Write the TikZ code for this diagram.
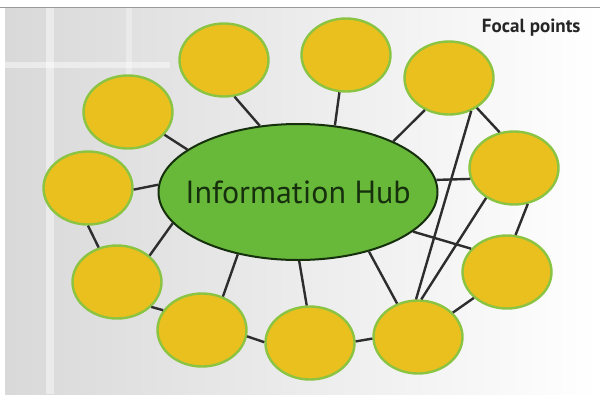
\documentclass[tikz,border=0pt]{standalone}
\usepackage{fontspec}
\setmainfont{PT Sans}
\usepackage{tikz}
\usetikzlibrary{shapes.geometric}
\definecolor{hubgreen}{RGB}{104,184,58}
\definecolor{hubrim}{RGB}{22,48,14}
\definecolor{focalgold}{RGB}{234,192,30}
\definecolor{rimgreen}{RGB}{138,196,66}
\definecolor{linkgray}{RGB}{45,45,45}

\begin{document}
\begin{tikzpicture}[x=1pt, y=-1pt,
    focal/.style={ellipse, draw=rimgreen, line width=2.4pt, fill=focalgold, minimum width=89pt, minimum height=73pt, inner sep=0pt},
    hub/.style={ellipse, draw=hubrim, line width=2pt, fill=hubgreen, minimum width=279pt, minimum height=136pt, inner sep=0pt},
    hubtext/.style={text=hubrim, font=\fontsize{32}{36}\selectfont, inner sep=0pt},
    link/.style={draw=linkgray, line width=2.4pt}]
    \useasboundingbox (0,0) rectangle (600,394);
    % backdrop
    \fill[white] (0,0) rectangle (600,394);
    \fill[left color=black!15, right color=white] (5,8) rectangle (600,394);
    \fill[white, opacity=0.45] (46,8) rectangle (54,394);
    \fill[white, opacity=0.3] (126,8) rectangle (132,150);
    \fill[white, opacity=0.45] (5,62) rectangle (170,68);
    \draw[black!40, line width=1pt] (0,7.5) -- (600,7.5);
    \node [anchor=north east, font=\bfseries\fontsize{19}{21}\selectfont, text=black!85] (title) at (584,15) {Focal points};
    % hub and focal points
    \node [hub, label={[hubtext]center:Information Hub}] (hub) at (298,192) {};
    \node [focal] (f1) at (224,60) {};
    \node [focal] (f2) at (346,55) {};
    \node [focal] (f3) at (449,78) {};
    \node [focal] (f4) at (128,112) {};
    \node [focal] (f5) at (514,168) {};
    \node [focal] (f6) at (88,188) {};
    \node [focal] (f7) at (507,272) {};
    \node [focal] (f8) at (117,282) {};
    \node [focal] (f9) at (202,330) {};
    \node [focal] (f10) at (310,343) {};
    \node [focal] (f11) at (418,337) {};
    % spokes from the hub
    \draw[link] (f1.-74) -- (hub.120);
    \draw[link] (f2.-100) -- (hub.61);
    \draw[link] (f3.-127) -- (hub.28);
    \draw[link] (f4.-32) -- (hub.159);
    \draw[link] (f5.-166) -- (hub.5);
    \draw[link] (f6.-2) -- (hub.177);
    \draw[link] (f8.39) -- (hub.-166);
    \draw[link] (hub.-19) -- (f7.147);
    \draw[link] (hub.-134) -- (f9.58);
    \draw[link] (hub.-89) -- (f10.95);
    \draw[link] (hub.-40) -- (f11.122);
    % links between focal points
    \draw[link] (f3.-47) -- (f5.112);
    \draw[link] (f3.-56) -- (f11.93);
    \draw[link] (f5.-133) -- (f11.85);
    \draw[link] (f5.-69) -- (f7.77);
    \draw[link] (f6.-90) -- (f8.118);
    \draw[link] (f8.-36) -- (f9.153);
    \draw[link] (f9.-8) -- (f10.179);
    \draw[link] (f10.2) -- (f11.182);
    \draw[link] (f11.35) -- (f7.-142);
\end{tikzpicture}
\end{document}
